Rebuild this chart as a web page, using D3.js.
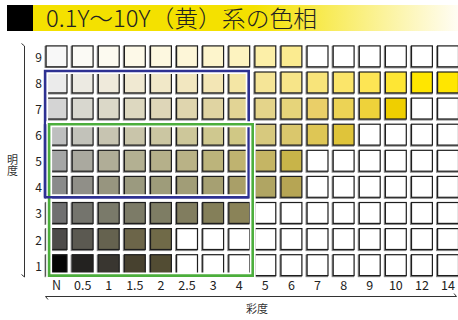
<!DOCTYPE html>
<html>
<head>
<meta charset="utf-8">
<script src="https://cdn.jsdelivr.net/npm/d3@7"></script>
<style>
  body { margin: 0; background: #fff; }
  svg { display: block; font-family: "Noto Sans CJK JP", "Noto Sans", sans-serif; }
</style>
</head>
<body>
<svg id="chart"></svg>
<script>
// Chroma (columns) and value (rows)
var chromas = ['N', '0.5', '1', '1.5', '2', '2.5', '3', '4', '5', '6', '7', '8', '9', '10', '12', '14'];
var values = [9, 8, 7, 6, 5, 4, 3, 2, 1];

// Colours per value row, from N upward; missing ones are empty cells
var value9 = ['#f8f8f8', '#fbfaf5', '#fcfaf0', '#fdf9e8', '#fdf8e0', '#fdf6d8', '#fdf5cc', '#fdf3c0', '#fcefa8', '#fbeb90'];
var value8 = ['#ebebeb', '#eceae2', '#efeadb', '#f0e9d2', '#f1e8c8', '#f2e7c0', '#f3e6b5', '#f4e6a5', '#f5e597', '#f7e589', '#f8e47a', '#fbe56a', '#fde554', '#fee634', '#ffe600', '#ffe600'];
var value7 = ['#d4d4d4', '#d8d7cf', '#dbd8c8', '#ddd8c0', '#ded6b8', '#dfd5ae', '#e0d4a2', '#e2d495', '#e4d48a', '#e6d47a', '#eacf68', '#ecd355', '#eed23a', '#efcf00'];
var value6 = ['#bebfbf', '#c2c2ba', '#c7c4b1', '#c9c5aa', '#cbc6a2', '#cdc79a', '#cfc88f', '#d0c885', '#d7c97e', '#dac76c', '#dec655', '#dfc43a'];
var value5 = ['#a5a6a6', '#aaa99f', '#b0ad97', '#b3b092', '#b5b08a', '#b9b286', '#bcb47b', '#bfb370', '#c5b564', '#c8b449'];
var value4 = ['#8a8b8b', '#908f88', '#97957f', '#9b9a7f', '#9e9c7a', '#a19d77', '#a6a072', '#a99f68', '#b0a563', '#b6a554'];
var value3 = ['#707071', '#74746d', '#7a7a6a', '#7c7b67', '#7e7d64', '#817d5f', '#847f59', '#8a8358'];
var value2 = ['#4d4b4a', '#5b5951', '#65624f', '#6c6549', '#706a48'];
var value1 = ['#050505', '#232220', '#393630', '#47412f', '#524c33'];

var rowColors = { 9: value9, 8: value8, 7: value7, 6: value6, 5: value5, 4: value4, 3: value3, 2: value2, 1: value1 };

var width = 458, height = 320;

var svg = d3.select('#chart')
    .attr('width', width)
    .attr('height', height);

// Title bar
var defs = svg.append('defs');
var grad = defs.append('linearGradient')
    .attr('id', 'titleGrad')
    .attr('x1', '0%').attr('x2', '100%');
grad.append('stop').attr('offset', '0%').attr('stop-color', '#f4e100');
grad.append('stop').attr('offset', '52%').attr('stop-color', '#f4e100');
grad.append('stop').attr('offset', '100%').attr('stop-color', '#fffdf4');

svg.append('rect')
    .attr('x', 33).attr('y', 5)
    .attr('width', 425).attr('height', 26)
    .attr('fill', 'url(#titleGrad)');

svg.append('rect')
    .attr('x', 7).attr('y', 5)
    .attr('width', 26).attr('height', 26)
    .attr('fill', '#000');

svg.append('text')
    .attr('x', 46).attr('y', 27)
    .attr('font-size', 23)
    .attr('font-weight', 300)
    .attr('fill', '#222')
    .attr('textLength', 271)
    .attr('lengthAdjust', 'spacingAndGlyphs')
    .text('0.1Y〜10Y（黄）系の色相');

// Scales
var step = 26.1;
var xScale = d3.scaleBand()
    .domain(chromas)
    .range([43.5, 43.5 + step * chromas.length])
    .paddingInner(0.2)
    .paddingOuter(0.1);

var yScale = d3.scaleBand()
    .domain(values)
    .range([43.3, 43.3 + step * values.length])
    .paddingInner(0.2)
    .paddingOuter(0.1);

var bw = xScale.bandwidth();
var bh = yScale.bandwidth();

// Build cell list
var cells = [];
values.forEach(function(v) {
    chromas.forEach(function(c, i) {
        cells.push({ value: v, chroma: c, color: rowColors[v][i] || null });
    });
});

var cellG = svg.append('g').attr('class', 'cells');

// Grey shadow outline
cellG.selectAll('.shadow')
    .data(cells)
    .enter()
    .append('rect')
    .attr('class', 'shadow')
    .attr('x', function(d) { return xScale(d.chroma) - 0.8; })
    .attr('y', function(d) { return yScale(d.value) + 0.8; })
    .attr('width', bw)
    .attr('height', bh)
    .attr('fill', 'none')
    .attr('stroke', '#8c8c8c')
    .attr('stroke-width', 1.6);

cellG.selectAll('.cell')
    .data(cells)
    .enter()
    .append('rect')
    .attr('class', 'cell')
    .attr('x', function(d) { return xScale(d.chroma); })
    .attr('y', function(d) { return yScale(d.value); })
    .attr('width', bw)
    .attr('height', bh)
    .attr('fill', function(d) { return d.color || '#fff'; })
    .attr('stroke', '#1e1e1e')
    .attr('stroke-width', 1.2);

// Frames (blue: value 4-8, green: value 1-6), chroma N..4
function frame(x0, y0, x1, y1, color) {
    var pts = [[x0, y0], [x1, y0], [x1, y1], [x0, y1]];
    svg.append('polygon')
        .attr('points', pts.join(' '))
        .attr('fill', 'none')
        .attr('stroke', '#fff')
        .attr('stroke-width', 6);
    svg.append('polygon')
        .attr('points', pts.join(' '))
        .attr('fill', 'none')
        .attr('stroke', color)
        .attr('stroke-width', 2.6);
}

frame(xScale('N') - 1, yScale(8) - 1, xScale('4') + bw - 1, yScale(4) + bh, '#2e3192');
frame(xScale('N') + 3, yScale(6), xScale('4') + bw + 3, yScale(1) + bh, '#4cae3c');

// Redraw blue segment that the green frame covers (left and bottom edges)
svg.append('line')
    .attr('x1', xScale('N') - 1).attr('y1', yScale(6))
    .attr('x2', xScale('N') - 1).attr('y2', yScale(4) + bh)
    .attr('stroke', '#2e3192').attr('stroke-width', 2.6);
svg.append('line')
    .attr('x1', xScale('N') - 1).attr('y1', yScale(4) + bh)
    .attr('x2', xScale('4') + bw - 1).attr('y2', yScale(4) + bh)
    .attr('stroke', '#2e3192').attr('stroke-width', 2.6);

// Row labels
svg.append('g')
    .selectAll('text')
    .data(values)
    .enter()
    .append('text')
    .attr('x', 42)
    .attr('y', function(d) { return yScale(d) + bh / 2; })
    .attr('text-anchor', 'end')
    .attr('dominant-baseline', 'central')
    .attr('font-size', 12)
    .attr('fill', '#222')
    .text(function(d) { return d; });

// Column labels
svg.append('g')
    .selectAll('text')
    .data(chromas)
    .enter()
    .append('text')
    .attr('x', function(d) { return xScale(d) + bw / 2; })
    .attr('y', 284)
    .attr('text-anchor', 'middle')
    .attr('dominant-baseline', 'central')
    .attr('font-size', 12.5)
    .attr('fill', '#222')
    .text(function(d) { return d; });

// Axis lines with half arrowheads
var axisColor = '#333';
svg.append('path')
    .attr('d', 'M21.5,43.5 L24.5,46 L24.5,277 L21.5,274.5')
    .attr('fill', 'none')
    .attr('stroke', axisColor)
    .attr('stroke-width', 1);

svg.append('path')
    .attr('d', 'M48,299.5 L45.5,296.5 L456.5,296.5 L454,293.5')
    .attr('fill', 'none')
    .attr('stroke', axisColor)
    .attr('stroke-width', 1);

// Axis titles
svg.append('text')
    .attr('x', 12.5).attr('y', 154)
    .attr('writing-mode', 'vertical-rl')
    .attr('text-anchor', 'start')
    .attr('font-size', 11)
    .attr('fill', '#333')
    .text('明度');

svg.append('text')
    .attr('x', 257).attr('y', 307.5)
    .attr('text-anchor', 'middle')
    .attr('dominant-baseline', 'central')
    .attr('font-size', 11)
    .attr('fill', '#333')
    .text('彩度');
</script>
</body>
</html>
